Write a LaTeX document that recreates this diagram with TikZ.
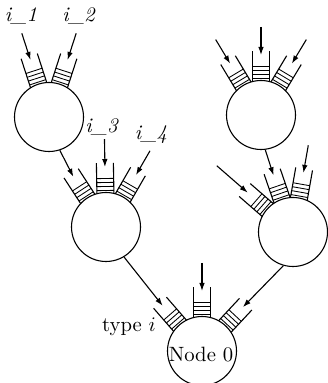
\documentclass[tikz,border=0pt]{standalone}
\usetikzlibrary{arrows.meta}
\tikzset{
  proc/.style={circle, draw, line width=1.1pt, minimum size=69pt, inner sep=0pt},
  qline/.style={line width=1.1pt},
  qstripe/.style={line width=0.85pt},
  arr/.style={line width=1.1pt, -{Latex[length=8pt,width=5.5pt]}},
  lbl/.style={inner sep=0pt, anchor=base},
}
\newcommand{\qdraw}[3]{%
  \begin{scope}[shift={(#1.center)}, rotate=#2-90]
    \draw[qline] (-8.5,33.5) -- (-8.5,64) (8.5,33.5) -- (8.5,64);
    \foreach \dd in {36.5,40.5,44.5,48.5} {\draw[qstripe] (-8.5,\dd) -- (8.5,\dd);}
    \coordinate (#3) at (0,60);
    \coordinate (#3src) at (0,88);
    \coordinate (#3far) at (0,101);
  \end{scope}}
\newcommand{\bigtxt}[1]{\scalebox{2.07}{#1}}
\begin{document}
\begin{tikzpicture}[x=1pt,y=1pt]
\useasboundingbox (0,0) rectangle (327,383);
% processing nodes
\node[proc] (A) at (49,266) {};
\node[proc] (B) at (261,268) {};
\node[proc] (C) at (106,156) {};
\node[proc] (D) at (293,151) {};
\node[proc] (E) at (202,32) {};
\node[lbl] (n0) at (201,21) {\bigtxt{Node 0}};
% queues
\qdraw{A}{108}{qA1}
\qdraw{A}{72}{qA2}
\qdraw{B}{121}{qB1}
\qdraw{B}{90}{qB2}
\qdraw{B}{59}{qB3}
\qdraw{C}{123}{qC1}
\qdraw{C}{91}{qC2}
\qdraw{C}{60}{qC3}
\qdraw{D}{139}{qD1}
\qdraw{D}{109}{qD2}
\qdraw{D}{80}{qD3}
\qdraw{E}{131}{qE1}
\qdraw{E}{90}{qE2}
\qdraw{E}{47}{qE3}
% external arrivals
\draw[arr] (qA1src) -- (qA1);
\draw[arr] (qA2src) -- (qA2);
\draw[arr] (qB1src) -- (qB1);
\draw[arr] (qB2src) -- (qB2);
\draw[arr] (qB3src) -- (qB3);
\draw[arr] (qC2src) -- (qC2);
\draw[arr] (qC3src) -- (qC3);
\draw[arr] (qD1far) -- (qD1);
\draw[arr] (qD3src) -- (qD3);
\draw[arr] (qE2src) -- (qE2);
% routing between nodes
\draw[arr] (A.-72) -- (qC1);
\draw[arr] (B.-83) -- (qD2);
\draw[arr] (C.-59) -- (qE1);
\draw[arr] (D.-106) -- (qE3);
% labels
\node[lbl] (l1) at (21,361) {\bigtxt{\textit{i\_1}}};
\node[lbl] (l2) at (79,361) {\bigtxt{\textit{i\_2}}};
\node[lbl] (l3) at (102,250) {\bigtxt{\textit{i\_3}}};
\node[lbl] (l4) at (151,243) {\bigtxt{\textit{i\_4}}};
\node[lbl] (lt) at (129,51) {\bigtxt{type $i$}};
\end{tikzpicture}
\end{document}
